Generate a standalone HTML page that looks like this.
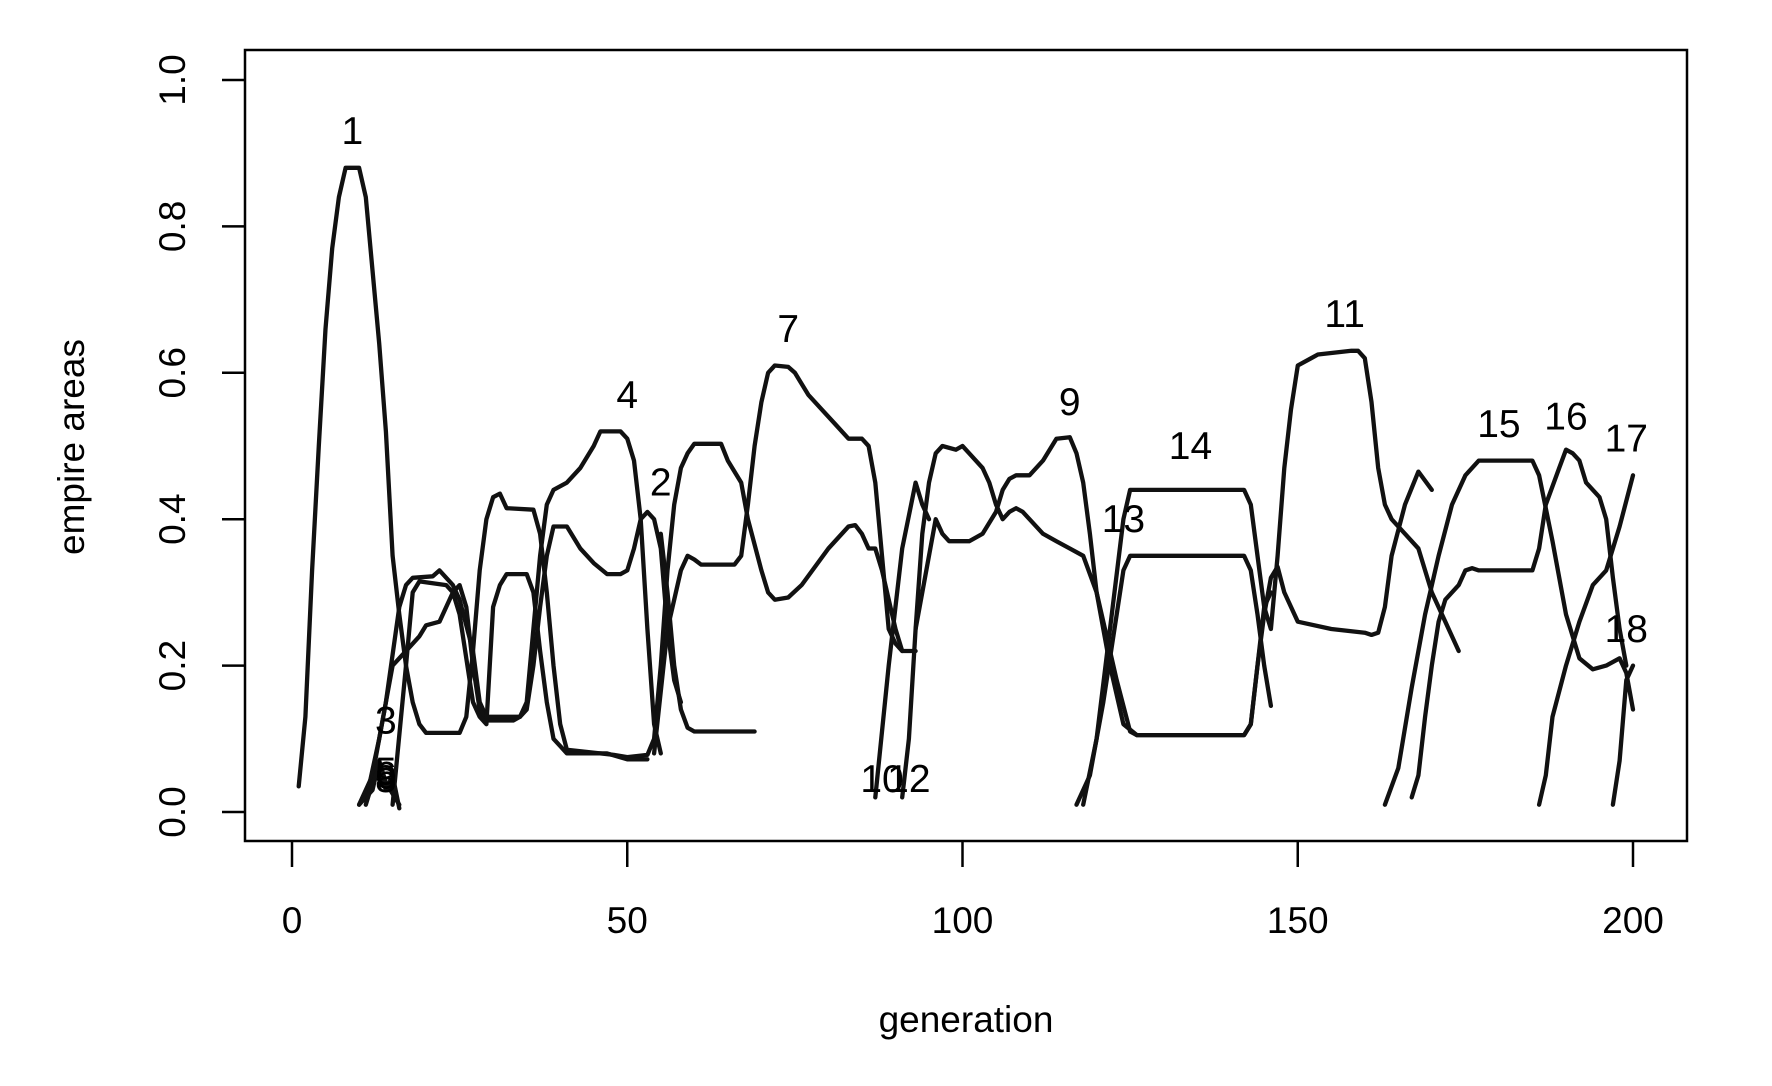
<!DOCTYPE html>
<html><head><meta charset="utf-8"><style>
html,body{margin:0;padding:0;background:#fff;}
svg{display:block;font-family:"Liberation Sans",sans-serif;}
</style></head><body>
<svg id="chart" width="1772" height="1086" viewBox="0 0 1772 1086" xmlns="http://www.w3.org/2000/svg">
<rect x="245" y="50" width="1442" height="791" fill="none" stroke="#000" stroke-width="2.5"/>
<g id="axes"></g><g id="lines"></g><g id="labels"></g>
<text x="966" y="1032" font-size="37" text-anchor="middle">generation</text>
<text transform="translate(84,447) rotate(-90)" font-size="37" text-anchor="middle">empire areas</text>
</svg>
<script>
const xTicks=[0,50,100,150,200];
const yTicks=[0,0.2,0.4,0.6,0.8,1.0];
const yTickLabels=["0.0","0.2","0.4","0.6","0.8","1.0"];
const empireGens=[
[1,2,3,4,5,6,7,8,10,11,12,13,14,15,16,17,18,19,20,25,26,27,28,29,30,31,32,36,37,38,39,40,41,48,50,53,54,55,56,57,58,59,60,64,65,67,68,70,71,72,74,76,80,83,84,85,86,87,88,90,91],
[10,12,14,16,17,18,21,22,24,25,27,28,29,34,35,36,37,38,39,41,43,45,47,49,50,51,52,53,54,55,56,57,58],
[11,13,15,17,19,20,22,24,25,26,27,28,29,33,34,35,36,37,38,39,41,43,45,46,49,50,51,52,53,54,55],
[15,17,18,19,23,24,25,26,27,28,29,30,31,32,35,36,37,38,39,40,41,47,50,53],
[54,56,58,59,60,61,66,67,68,69,70,71,72,74,75,77,79,81,83,85,86,87,88,89,90,91,93],
[55,56,57,58,59,60,69],
[87,89,91,93,94,95],
[91,92,93,94,95,96,97,99,100,101,103,104,105,106,107,108,109,110,112,114,116,118,120,122,124,126,142,143,144,145,146,147,148,150,155,160,161,162,163,164,166,168,170],
[93,95,96,97,98,101,103,105,106,107,108,110,112,114,116,117,118,119,120,123,125,126,142,143,144,145,146],
[117,119,121,123,124,125,142,143,144,145,146],
[118,120,122,124,125,142,143,144,145,146,147,148,149,150,152,153,158,159,160,161,162,163,164,166,168,170,172,174],
[163,165,167,169,171,173,175,177,185,186,188,190,192,194,196,198,199,200],
[167,168,169,170,171,172,174,175,176,177,185,186,187,189,190,191,192,193,195,196,197,198,199],
[186,187,188,190,192,194,196,197,198,200],
[197,198,199,200],
[10,12,13,14,16],
[11,12,13,14,15,16]
];
const empireVals=[
[.035,.13,.33,.5,.66,.77,.84,.88,.88,.84,.74,.64,.52,.35,.27,.2,.15,.12,.108,.108,.13,.22,.33,.4,.43,.435,.415,.413,.38,.3,.2,.12,.085,.078,.075,.078,.1,.2,.33,.42,.47,.49,.503,.503,.48,.45,.4,.33,.3,.29,.293,.31,.36,.39,.392,.38,.36,.36,.33,.25,.22],
[.01,.05,.15,.28,.31,.32,.322,.33,.31,.29,.22,.15,.13,.13,.14,.2,.28,.35,.39,.39,.36,.34,.325,.325,.33,.36,.4,.41,.4,.36,.25,.18,.15],
[.015,.1,.2,.22,.24,.255,.26,.3,.31,.28,.2,.14,.125,.125,.13,.15,.25,.35,.42,.44,.45,.47,.5,.52,.52,.51,.48,.4,.25,.12,.08],
[.01,.2,.3,.315,.31,.3,.27,.21,.15,.13,.12,.28,.31,.325,.325,.3,.22,.15,.1,.09,.08,.08,.072,.072],
[.08,.25,.33,.35,.345,.338,.338,.35,.42,.5,.56,.6,.61,.608,.6,.57,.55,.53,.51,.51,.5,.45,.35,.25,.23,.22,.22],
[.38,.3,.2,.14,.115,.11,.11],
[.02,.2,.36,.45,.42,.4],
[.02,.1,.25,.38,.45,.49,.5,.495,.5,.49,.47,.45,.42,.4,.41,.415,.41,.4,.38,.37,.36,.35,.3,.2,.12,.105,.105,.12,.2,.27,.32,.335,.3,.26,.25,.245,.242,.245,.28,.35,.42,.465,.44,.36,.24],
[.25,.35,.4,.38,.37,.37,.38,.41,.44,.455,.46,.46,.48,.51,.512,.49,.45,.38,.3,.18,.11,.105,.105,.12,.2,.28,.3],
[.01,.05,.15,.27,.33,.35,.35,.33,.27,.2,.145],
[.01,.1,.25,.4,.44,.44,.42,.35,.28,.25,.35,.47,.55,.61,.62,.625,.63,.63,.62,.56,.47,.42,.4,.38,.36,.3,.26,.22,.18],
[.01,.06,.17,.27,.35,.42,.46,.48,.48,.46,.37,.27,.21,.195,.2,.21,.19,.14],
[.02,.05,.13,.2,.26,.29,.31,.33,.333,.33,.33,.36,.42,.47,.495,.49,.48,.45,.43,.4,.32,.25,.2],
[.01,.05,.13,.2,.26,.31,.33,.36,.39,.46],
[.01,.07,.18,.2],
[.01,.03,.07,.04,.01],
[.01,.04,.06,.03,.05,.005]
];
const labelText=["1","2","3","4","5","6","7","8","9","10","11","12","13","14","15","16","17","18"];
const labelGen=[9,55,14,50,14,14,74,14,116,88,157,92,124,134,180,190,199,199];
const labelVal=[.93,.45,.125,.57,.055,.05,.66,.045,.56,.045,.68,.045,.4,.5,.53,.54,.51,.25];

const X=g=>292+g*(1633-292)/200;
const Y=v=>812-v*732;
const NS="http://www.w3.org/2000/svg";
const axes=document.getElementById('axes');
function mk(tag,attrs,parent){const e=document.createElementNS(NS,tag);for(const k in attrs)e.setAttribute(k,attrs[k]);parent.appendChild(e);return e;}
xTicks.forEach(t=>{
  const l=mk('line',{x1:X(t),x2:X(t),y1:841,y2:867,stroke:'#000','stroke-width':2.5},axes);
  
  
  const tx=mk('text',{x:X(t),y:933,'font-size':37,'text-anchor':'middle'},axes);
  tx.textContent=t;
  
  
});
yTicks.forEach((t,i)=>{
  const l=mk('line',{x1:222,x2:245,y1:Y(t),y2:Y(t),stroke:'#000','stroke-width':2.5},axes);
  
  
  const tx=mk('text',{transform:`translate(185,${Y(t)}) rotate(-90)`,'font-size':37,'text-anchor':'middle'},axes);
  tx.textContent=yTickLabels[i];
  
  
});
const lines=document.getElementById('lines');
empireGens.forEach((gs,i)=>{
  const pts=gs.map((g,j)=>X(g).toFixed(1)+','+Y(empireVals[i][j]).toFixed(1)).join(' ');
  const p=mk('polyline',{points:pts,fill:'none',stroke:'#111','stroke-width':4.3,'stroke-linejoin':'round','stroke-linecap':'round'},lines);
  
  
});
const labels=document.getElementById('labels');
labelText.forEach((t,i)=>{
  const tx=mk('text',{x:X(labelGen[i]),y:Y(labelVal[i])+13,'font-size':39,'text-anchor':'middle'},labels);
  tx.textContent=t;
  
  
});
</script>
</body></html>
